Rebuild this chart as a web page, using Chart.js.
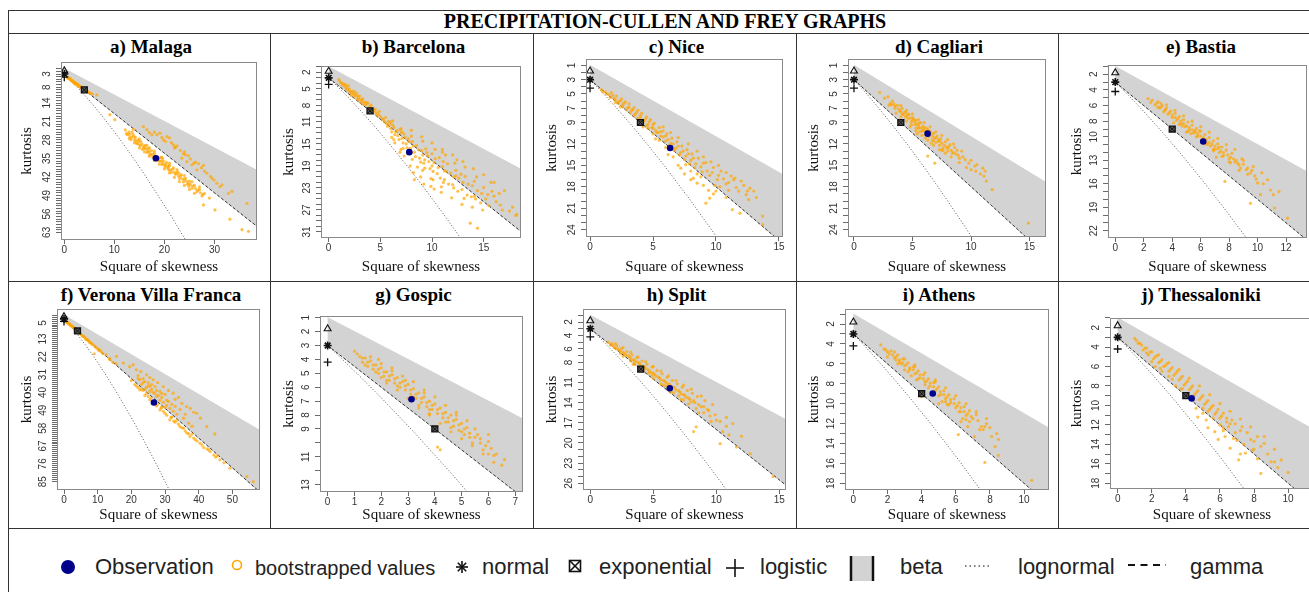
<!DOCTYPE html>
<html><head><meta charset="utf-8">
<script src="https://cdn.jsdelivr.net/npm/chart.js@4.4.1/dist/chart.umd.min.js"></script>
<style>
html,body{margin:0;padding:0;background:#fff;}
#page{position:relative;width:1309px;height:592px;overflow:hidden;background:#fff;}
.ln{position:absolute;background:#333;}
.ptitle{position:absolute;font-family:'Liberation Serif','Times New Roman',serif;font-weight:bold;font-size:19px;line-height:1;white-space:nowrap;transform:translateX(-50%);color:#000;}
.mtitle{position:absolute;font-family:'Liberation Serif','Times New Roman',serif;font-weight:bold;font-size:20px;line-height:1;white-space:nowrap;transform:translateX(-50%);color:#000;}
.lg{position:absolute;font-family:'Liberation Sans',Arial,sans-serif;font-size:22px;line-height:1;white-space:nowrap;color:#222;}
canvas{position:absolute;}
</style></head>
<body>
<div id="page">
  <div class="ln" style="left:8px;top:10px;width:1301px;height:1px"></div>
  <div class="ln" style="left:8px;top:33px;width:1301px;height:1px"></div>
  <div class="ln" style="left:8px;top:281px;width:1301px;height:1px"></div>
  <div class="ln" style="left:8px;top:528px;width:1301px;height:1px"></div>
  <div class="ln" style="left:8px;top:10px;width:1px;height:582px"></div>
  <div class="ln" style="left:270px;top:33px;width:1px;height:495px"></div>
  <div class="ln" style="left:533px;top:33px;width:1px;height:495px"></div>
  <div class="ln" style="left:796px;top:33px;width:1px;height:495px"></div>
  <div class="ln" style="left:1058px;top:33px;width:1px;height:495px"></div>
  <div class="mtitle" style="left:665px;top:11px">PRECIPITATION-CULLEN AND FREY GRAPHS</div>

  <svg style="position:absolute;left:0;top:528px" width="1309" height="64">
    <circle cx="68" cy="39" r="7" fill="#00008b"/>
    <circle cx="237" cy="37" r="4.5" fill="none" stroke="#ffa500" stroke-width="1.6"/>
    <g stroke="#111" stroke-width="1.6">
      <line x1="456" y1="39" x2="468" y2="39"/><line x1="462" y1="33" x2="462" y2="45"/>
      <line x1="457.8" y1="34.8" x2="466.2" y2="43.2"/><line x1="457.8" y1="43.2" x2="466.2" y2="34.8"/>
    </g>
    <g stroke="#111" stroke-width="1.6" fill="none">
      <rect x="569.5" y="32.5" width="11" height="11"/>
      <line x1="570" y1="33" x2="580" y2="43"/><line x1="570" y1="43" x2="580" y2="33"/>
    </g>
    <g stroke="#111" stroke-width="1.6">
      <line x1="726" y1="40" x2="744" y2="40"/><line x1="735" y1="31" x2="735" y2="49"/>
    </g>
    <rect x="850" y="28" width="24" height="25" fill="#d3d3d3"/>
    <line x1="851" y1="28" x2="851" y2="53" stroke="#111" stroke-width="2.5"/>
    <line x1="873" y1="28" x2="873" y2="53" stroke="#111" stroke-width="2.5"/>
    <line x1="965" y1="38" x2="992" y2="38" stroke="#555" stroke-width="1.3" stroke-dasharray="1.5 3"/>
    <line x1="1128" y1="37" x2="1166" y2="37" stroke="#111" stroke-width="1.8" stroke-dasharray="7 5.5"/>
  </svg>
  <div class="lg" style="left:95px;top:556px">Observation</div>
  <div class="lg" style="left:255px;top:558px;font-size:20px">bootstrapped values</div>
  <div class="lg" style="left:482px;top:556px">normal</div>
  <div class="lg" style="left:599px;top:556px">exponential</div>
  <div class="lg" style="left:760px;top:556px">logistic</div>
  <div class="lg" style="left:900px;top:556px">beta</div>
  <div class="lg" style="left:1018px;top:556px">lognormal</div>
  <div class="lg" style="left:1190px;top:556px">gamma</div>
</div>
<script>
// ---------------- DATA ----------------
const stationNames = ['a) Malaga','b) Barcelona','c) Nice','d) Cagliari','e) Bastia',
  'f) Verona Villa Franca','g) Gospic','h) Split','i) Athens','j) Thessaloniki'];

// observed (square of skewness, kurtosis)
const observedSkew2 = [18.3, 7.8, 6.36, 6.29, 6.18, 26.7, 3.13, 6.31, 4.65, 4.34];
const observedKurt  = [34.9, 16.5, 12.57, 10.56, 10.6, 45.1, 6.86, 11.85, 8.98, 9.28];

// x tick labels (square of skewness)
const xTicks = [[0,10,20,30],[0,5,10,15],[0,5,10,15],[0,5,10,15],[0,2,4,6,8,10,12],
  [0,10,20,30,40,50],[0,1,2,3,4,5,6,7],[0,5,10,15],[0,2,4,6,8,10],[0,2,4,6,8,10]];
// kurtosis axis: largest tick and labelled ticks
const kurtMax = [63,31,24,24,22,85,13,26,18,18];
const kurtLabels = [
  [3,8,14,21,28,35,42,49,56,63],
  [2,5,8,11,15,19,23,27,31],
  [1,3,5,7,9,12,15,18,21,24],
  [1,3,5,7,9,12,15,18,21,24],
  [2,4,6,8,10,13,16,19,22],
  [5,13,22,31,40,49,58,67,76,85],
  [1,2,3,4,5,6,7,8,9,11,13],
  [2,4,6,8,11,14,17,20,23,26],
  [2,4,6,8,10,12,14,16,18],
  [2,4,6,8,10,12,14,16,18]];

// theoretical references
const betaRegion = [[0,1],[200,201],[200,303],[0,3]];
const gammaLine = [[0,3],[200,303]];
const lognormalCurve = [[0,3],[0.182,3.326],[0.465,3.838],[0.961,4.756],[1.488,5.758],[2.048,6.85],
  [3.267,9.32],[4.624,12.21],[6.125,15.56],[7.776,19.43],[9.583,23.85],[11.552,28.88],
  [13.689,34.58],[16,41],[21.168,56.24],[27.104,75.11],[33.856,98.13],[41.47,125.89]];
const normalPoint = [0,3];
const uniformPoint = [0,1.8];
const logisticPoint = [0,4.2];
const exponentialPoint = [4,9];

// bootstrapped values [square of skewness, kurtosis]
const bootMalaga = [[0.6,4.2],[0.9,4.6],[1.1,5.0],[1.3,5.2],[1.5,5.6],[1.7,5.9],[1.9,6.1],[2.1,6.4],[2.3,6.8],[2.5,7.0],[2.7,7.3],[2.9,7.5],[3.2,8.0],[3.5,8.3],[3.8,8.8],[4.2,9.1],[4.6,9.6],[5.0,10.0],[5.6,10.6],[6.5,10.9],[1.2,4.8],[2.0,6.6],[2.8,7.0],[3.4,7.8],
 [0.7,4.6],[1.0,4.6],[1.4,5.4],[1.6,5.4],[1.8,6.0],[2.2,6.2],[2.4,6.6],[2.6,6.9],[3.0,7.7],[3.3,7.9],[3.6,8.4],[4.0,8.7],[4.4,9.4],[4.8,9.8],[5.3,10.3],
 [9.1,18.4],[10.1,20.3],[13.8,24.0],
 [16.5,24.1],[18.5,26.0],[20.5,26.7],[19.8,27.9],[21.8,29.8],[23.5,34.9],[24.5,36.2],[25.5,37.4],[26.5,39.3],[28.5,40.6],[29.5,42.5],[30.5,44.4],[31.1,45.7],[32.8,48.2],[15.8,22.9],[17.0,25.2],[19.1,25.4],[21.0,27.2],[22.5,30.2],[24.0,32.5],[24.8,34.0],[26.2,36.4],[27.8,37.6],[29.2,41.8],[31.5,45.0],[22.0,31.0],[26.8,37.0],[23.8,33.2],
 [17.5,26.0],[18.0,25.0],[19.5,27.0],[20.2,28.5],[21.4,29.0],[22.2,30.8],[23.2,32.0],[24.2,33.6],[25.2,35.2],[25.9,36.8],[27.4,38.5],[28.0,39.8],[29.9,43.2],[33.5,47.5],
 [12.2,24.2],[12.6,26.0],[13.0,25.8],[13.3,27.9],[13.7,25.9],[14.0,27.9],[14.4,29.2],[14.7,28.0],[15.0,29.7],[15.3,28.6],[15.6,31.6],[15.9,30.4],[16.2,30.0],[16.5,32.7],[16.8,31.2],[17.1,33.4],[17.4,32.0],[17.7,34.6],[18.0,33.0],[18.9,36.0],[19.2,34.6],[19.5,37.3],[19.8,35.9],[20.1,38.2],[20.4,36.5],[20.7,38.8],[21.0,37.6],[21.4,40.3],[21.8,38.6],[22.2,41.0],[22.6,40.0],[23.0,42.6],[23.4,41.2],[23.8,43.9],[24.2,42.5],[24.6,44.8],[25.0,43.6],[25.5,46.3],[26.0,45.2],[26.5,47.6],[27.0,46.8],[27.5,49.2],[28.0,48.3],[14.2,27.0],[18.4,35.5],[20.9,39.4],[22.9,40.6],[24.9,45.6],[19.6,35.0],[17.0,31.0],
 [12.4,25.6],[12.9,25.0],[13.1,26.8],[13.5,27.0],[13.9,26.6],[14.3,28.3],[14.6,29.4],[14.9,28.5],[15.2,30.2],[15.5,29.6],[15.8,31.0],[16.1,31.2],[16.4,31.4],[16.7,32.3],[17.0,32.5],[17.3,33.6],[17.6,33.3],[17.9,34.0],[18.2,34.0],[18.6,34.8],[18.8,35.1],[19.1,35.9],[19.4,36.1],[19.7,36.8],[20.0,37.5],[20.3,37.3],[20.6,38.2],[20.9,38.0],[21.2,39.4],[21.6,39.1],[22.0,40.2],[22.4,40.7],[22.8,41.6],[23.2,41.8],[23.6,42.7],[24.0,43.0],[24.4,43.6],[24.8,44.4],[25.2,44.9],[25.7,45.5],[26.2,46.4],[26.7,47.0],[27.2,48.0],[27.7,48.6],
 [36.5,52.0],[33.1,58.0],[35.5,62.0],[36.8,62.6],[30.1,54.5],[27.8,52.6],[29.0,50.0]];
const spreadMalaga = [[13.0,27.5],[14.0,29.0],[15.0,31.0],[16.0,32.5],[17.0,34.2],[18.0,35.8],[19.0,37.2],[20.0,39.0],[21.0,40.5],[22.0,42.2],[23.0,43.8],[24.0,45.2],[25.0,46.8],[26.0,48.2],[13.5,25.0],[15.0,27.6],[16.5,30.0],[18.0,32.2],[19.5,34.6],[21.0,36.8],[22.5,39.2],[24.0,41.5],[25.5,43.8],[27.0,45.8]];

const bootBarcelona = [[1.0,3.3],[1.2,3.9],[1.4,4.0],[1.5,4.5],[1.7,4.6],[1.8,5.1],[2.0,5.0],[2.1,5.5],[2.3,5.4],[2.4,5.9],[2.6,6.1],[2.7,5.8],[2.9,6.6],[3.0,6.3],[3.2,7.0],[3.3,6.8],[3.5,7.4],[3.6,7.9],[3.8,7.6],[4.0,8.2],[4.2,8.6],[4.4,8.9],[4.6,9.3],[4.8,9.6],[5.0,10.0],[2.2,6.2],[3.1,7.5],[1.9,4.4],[2.8,6.9],
 [5.3,10.6],[5.6,11.3],[5.8,10.9],[6.0,12.2],[6.2,11.6],[6.5,12.8],[6.7,13.5],[6.9,12.4],[7.1,14.0],[7.3,13.2],[7.5,15.0],[7.7,14.1],[7.9,15.8],[8.1,14.6],[8.3,16.5],[8.5,15.3],[8.8,17.6],[9.0,16.2],[9.2,18.5],[9.4,15.9],[9.6,17.2],[9.8,19.5],[10.0,16.8],[10.2,18.4],[10.5,20.4],[10.7,17.5],[11.0,19.1],[11.2,21.5],[11.5,18.6],[11.8,20.3],[12.0,22.4],[12.3,19.8],[12.6,21.2],[12.9,23.3],[13.2,20.9],[13.5,22.3],[13.8,24.6],[14.1,21.8],[14.4,23.5],[14.7,25.7],[15.0,22.9],[15.4,24.2],[15.8,23.6],[16.2,25.5],[16.6,26.1],[17.5,27.2],[8.6,19.2],[9.9,21.3],[10.9,22.8],[7.0,16.0],[13.7,29.4],[14.4,30.3],[12.4,17.9],[11.0,16.5],[6.3,14.2],
 [1.1,3.7],[1.3,4.3],[1.6,4.2],[1.7,4.9],[2.0,5.4],[2.2,5.7],[2.5,5.5],[2.5,6.4],[2.8,6.3],[3.0,7.0],[3.3,7.3],[3.4,7.8],[3.7,7.5],[3.9,8.5],[4.1,8.0],[4.3,9.2],[4.5,8.7],[4.7,9.8],[4.9,9.1],[5.2,10.4],[5.4,11.0],[5.5,10.2],[5.7,11.8],[5.9,11.4],[6.1,12.8],[6.3,12.0],[6.4,13.3],[6.6,12.6],[6.8,14.2],[7.0,13.0],[7.2,14.8],[7.4,13.8],[7.6,15.7],[7.8,14.6],[8.0,16.6],[8.2,15.4],[8.4,17.3],[8.7,16.1],[8.9,18.3],[9.1,17.0],[9.3,19.4],[9.5,16.6],[9.7,18.2],[10.1,20.0],[10.3,17.7],[10.6,19.3],[10.8,21.2],[11.1,18.2],[11.4,20.0],[11.6,22.3],[12.1,21.0],[12.5,23.6],[12.8,20.5],[13.0,22.0],[13.4,24.3],[13.9,22.6],[14.2,25.0],[14.8,24.0],[15.5,26.2],[16.0,24.5],[16.8,27.0],[18.1,28.0]];
const spreadBarcelona = [[6.0,11.0],[6.1,13.8],[6.4,14.8],[6.2,10.8],[7.0,12.2],[7.2,15.8],[6.9,16.5],[7.3,17.2],[7.1,12.8],[8.0,12.5],[8.1,17.8],[7.9,19.0],[8.2,20.2],[8.0,13.6],[8.3,21.5],[9.0,13.7],[9.1,19.8],[8.9,21.0],[9.2,22.3],[9.1,14.5],[9.3,17.9],[10.0,14.8],[10.1,21.5],[9.9,22.7],[10.2,23.2],[10.3,16.0],[10.0,19.0],[11.0,16.0],[11.1,22.0],[10.9,23.8],[11.3,17.0],[11.2,19.9],[12.0,17.0],[12.1,23.0],[11.9,24.8],[12.2,18.5],[12.3,20.8],[13.0,18.2],[13.1,24.9],[12.9,26.0],[13.2,19.2],[14.0,19.5],[14.1,24.5],[13.9,26.5],[14.3,21.0],[15.0,20.6],[15.2,25.0],[14.9,27.0],[16.0,22.0],[16.5,24.0],[17.0,23.5],[17.8,26.5],[18.2,27.8],[15.7,22.0]];

const bootNice = [[0.9,4.4],[1.2,4.7],[1.5,5.1],[1.7,4.8],[1.9,5.6],[2.1,5.3],[2.3,6.0],[2.5,5.7],[2.6,6.5],[2.8,6.1],[3.0,6.9],[3.1,6.4],[3.3,7.3],[3.5,6.9],[3.6,7.8],[3.8,7.3],[4.0,8.3],[4.1,7.7],[4.3,8.8],[4.5,8.2],[4.6,9.3],[4.8,8.6],[5.0,9.8],[5.1,9.1],[5.3,10.4],[5.5,9.7],[5.6,10.9],[5.8,10.2],[6.0,11.6],[6.1,10.6],[6.3,12.2],[6.5,11.2],[6.7,12.9],[6.9,11.7],[7.1,13.5],[7.3,12.3],[7.5,14.2],[7.7,12.8],[7.9,14.8],[8.1,13.4],[8.3,15.3],[8.6,14.0],[8.9,15.9],[9.2,14.6],[9.5,16.4],[9.8,15.3],[10.1,17.0],[10.4,15.8],[10.8,17.6],[11.2,16.5],[11.6,18.1],[12.0,17.2],[12.4,19.1],[12.7,18.2],[9.2,20.3],[9.5,19.6],[11.3,21.2],[11.9,21.7],[13.7,22.1],[13.7,23.3],[8.0,17.0],[7.2,15.4],[6.2,13.5],[10.0,18.6],[2.4,6.8],[3.9,8.9],[5.2,11.3],[2.0,6.2],[4.2,9.6],[12.6,19.8],[13.0,18.6],
 [1.0,4.7],[1.3,5.0],[1.6,5.5],[1.8,5.2],[2.0,5.8],[2.2,6.3],[2.4,6.0],[2.6,6.8],[2.7,6.3],[2.9,7.2],[3.1,6.9],[3.2,7.6],[3.4,7.2],[3.5,8.0],[3.7,7.6],[3.8,8.4],[4.0,8.0],[4.2,8.9],[4.4,8.5],[4.5,9.4],[4.7,8.9],[4.9,9.7],[5.0,9.3],[5.2,10.1],[5.4,10.4],[5.6,10.3],[5.8,11.0],[6.0,10.9],[6.2,11.4],[6.4,11.9],[6.6,12.0],[6.8,12.6],[7.0,12.3],[7.2,13.2],[7.4,13.0],[7.6,13.7],[7.8,13.4],[8.0,14.3],[8.2,14.0],[8.4,14.8],[8.8,15.2],[9.0,14.7],[9.3,15.8],[9.7,16.0],[10.2,16.4],[10.6,16.9],[11.0,17.4],[11.4,17.0],[11.8,18.6],[8.5,16.2],[9.9,17.8],[7.6,14.9]];
const spreadNice = [[7.0,15.0],[7.5,16.2],[8.0,15.8],[8.2,16.8],[8.5,17.5],[8.8,16.6],[9.0,17.8],[9.4,18.5],[9.8,19.0],[10.3,18.0],[10.8,19.5],[11.0,18.5],[7.8,12.0],[8.5,13.0],[9.0,13.8],[9.6,14.5],[10.2,15.0],[10.8,16.0],[11.5,16.8],[12.2,17.8],[6.6,13.8],[6.0,12.5],[5.5,11.5],[5.0,10.6],[4.6,9.8],[5.8,9.6],[6.4,10.4],[7.0,11.1],[12.5,18.6],[13.2,19.5]];

const bootCagliari = [[2.2,4.8],[2.6,5.6],[2.9,5.4],[3.1,6.3],[3.3,6.0],[3.5,7.0],[3.7,6.6],[3.9,7.4],[4.1,7.0],[4.2,7.9],[4.4,7.5],[4.6,8.4],[4.7,7.9],[4.9,8.9],[5.0,8.3],[5.2,9.3],[5.3,8.7],[5.5,9.8],[5.6,9.1],[5.8,10.2],[5.9,9.5],[6.1,10.6],[6.2,9.8],[6.4,11.0],[6.5,10.2],[6.7,11.4],[6.8,10.5],[7.0,11.8],[7.1,10.9],[7.3,12.2],[7.4,11.3],[7.6,12.6],[7.8,11.7],[8.0,13.0],[8.2,12.1],[8.4,13.3],[8.6,12.5],[8.9,13.6],[9.2,13.0],[9.5,14.2],[9.8,14.7],[10.3,15.1],[11.2,15.8],[11.3,17.2],[11.1,16.5],[11.8,18.4],[14.9,23.1],[6.3,13.7],[6.9,14.7],[5.4,10.6],[6.6,11.9],[7.5,12.9],[4.5,8.8],[3.6,7.7],[5.7,9.0],[6.0,10.1],[7.2,11.6],[8.1,12.4],[9.0,14.0],[10.0,15.6],[10.8,16.2],[4.0,6.6],[3.0,6.6],
 [3.2,6.5],[3.4,6.4],[3.5,6.7],[3.8,7.1],[4.0,7.4],[4.1,7.8],[4.3,7.6],[4.5,8.0],[4.6,7.8],[4.8,8.4],[5.0,8.7],[5.1,8.5],[5.2,8.9],[5.4,9.2],[5.5,9.4],[5.6,9.7],[5.8,9.8],[5.9,10.1],[6.0,9.7],[6.2,10.3],[6.3,10.0],[6.4,10.5],[6.6,10.6],[6.7,10.9],[6.9,11.2],[7.0,11.1],[7.2,11.4],[7.3,11.6],[7.5,11.9],[7.7,12.2],[7.9,12.4],[8.0,12.6],[8.3,12.9],[8.5,13.2],[8.7,13.4],[6.1,11.2],[6.8,11.6],[5.3,9.8],[4.9,9.3],[7.6,12.9],[4.4,8.2],[5.6,10.3],[8.8,12.9],[9.3,13.8]];
const spreadCagliari = [[4.0,8.2],[4.5,7.3],[5.0,7.8],[5.5,8.6],[6.0,9.0],[6.5,9.6],[7.0,10.3],[7.5,10.8],[8.0,11.4],[8.5,12.0],[4.8,9.6],[5.3,10.2],[5.8,10.8],[6.3,11.5],[6.8,12.2],[7.3,12.8],[7.8,13.3],[8.3,13.8],[9.0,14.6],[9.6,15.3],[10.4,15.8],[10.0,14.3],[10.5,14.9],[11.0,15.4]];

const bootBastia = [[2.3,5.1],[2.6,5.3],[2.8,5.9],[3.0,5.5],[3.1,6.3],[3.3,6.0],[3.4,6.8],[3.6,6.3],[3.7,7.1],[3.9,6.7],[4.0,7.5],[4.2,7.0],[4.3,7.9],[4.5,7.4],[4.6,8.3],[4.8,7.8],[4.9,8.7],[5.1,8.1],[5.2,9.1],[5.4,8.5],[5.5,9.5],[5.7,8.9],[5.8,9.9],[6.0,9.3],[6.1,10.3],[6.3,9.7],[6.4,10.8],[6.6,10.1],[6.7,11.2],[6.9,10.5],[7.0,11.6],[7.2,10.9],[7.3,12.0],[7.5,11.3],[7.6,12.4],[7.8,11.7],[8.0,12.8],[8.2,12.1],[8.4,13.2],[8.6,13.4],[8.9,12.8],[9.2,14.2],[9.5,14.6],[10.0,15.9],[10.7,15.5],[7.7,15.7],[9.5,18.5],[12.1,20.4],[10.2,17.4],[11.2,19.1],[11.1,17.4],[6.5,11.0],[5.0,9.4],[4.1,8.2],[7.1,12.6],[8.8,14.0],[3.5,6.6],[5.6,9.2],[9.8,15.0],[3.2,5.7],
 [2.5,5.6],[2.9,5.7],[3.2,6.2],[3.5,6.5],[3.8,6.9],[4.0,7.2],[4.2,7.5],[4.4,7.7],[4.6,8.0],[4.8,8.3],[5.0,8.6],[5.2,8.8],[5.4,9.1],[5.6,9.4],[5.8,9.6],[6.0,9.9],[6.2,10.1],[6.4,10.4],[6.6,10.7],[6.8,10.9],[7.0,11.2],[7.2,11.5],[7.4,11.8],[7.6,12.0],[7.9,12.3],[8.1,12.6],[8.3,12.8],[8.5,13.0],[8.7,13.6],[9.0,13.5],[9.3,14.0],[9.6,14.3],[5.3,9.6],[6.2,10.7],[7.3,11.3],[4.7,8.6],[5.9,9.2],[6.9,11.8],[8.0,13.2]];
const spreadBastia = [[3.0,6.2],[3.6,5.9],[4.2,6.6],[4.8,7.3],[5.4,8.0],[6.0,8.7],[6.6,9.4],[7.2,10.2],[7.8,11.0],[8.4,11.6],[4.5,8.4],[5.1,9.3],[5.7,10.0],[6.3,10.9],[6.9,11.6],[7.5,12.5],[8.1,13.3],[8.7,14.3],[9.3,14.8],[9.9,15.4],[10.4,16.0],[9.0,13.0],[9.7,13.8],[10.3,14.6],[10.9,16.8],[11.5,17.0]];

const bootVerona = [[0.5,4.0],[0.8,4.5],[1.0,4.8],[1.3,5.2],[1.6,5.7],[1.9,6.0],[2.2,6.5],[2.5,6.9],[2.8,7.5],[3.1,7.8],[3.5,8.4],[4.0,9.2],[4.5,10.0],[5.0,10.4],[5.5,11.6],[6.0,12.0],[6.5,13.2],[7.0,13.5],[7.5,14.6],[8.0,15.2],[8.6,16.0],[9.2,16.8],[10.0,18.0],[10.6,18.5],[11.5,20.4],[12.5,21.0],[9.0,20.5],[13.5,22.8],[14.5,24.8],[15.5,25.5],[13.6,23.5],[15.6,21.8],[17.6,25.2],
 [0.6,4.4],[1.1,5.1],[1.5,5.3],[2.0,6.3],[2.4,6.6],[2.9,7.2],[3.3,8.0],[3.8,8.8],[4.2,9.6],[4.8,10.3],[5.3,11.2],[5.8,11.8],[6.3,12.6],[6.8,13.4],[7.3,14.0],[7.8,14.8],[8.3,15.6],[9.5,17.4],[10.3,18.8],[11.0,19.4],
 [19.5,27.0],[20.5,26.0],[21.5,28.6],[22.0,31.5],[22.8,29.5],[23.5,33.0],[24.5,31.1],[25.0,35.0],[25.5,32.5],[26.5,33.6],[27.0,37.0],[27.8,35.0],[28.5,39.5],[29.5,37.0],[30.0,41.0],[31.0,39.0],[32.4,40.4],[33.0,43.5],[34.0,42.5],[35.0,45.5],[36.4,47.1],[37.5,48.0],[38.5,50.0],[39.4,50.5],[40.5,53.0],[42.4,57.2],[44.8,60.9],[23.0,36.0],[26.0,38.5],[29.0,42.5],
 [24.0,34.5],[25.5,37.0],[27.5,39.0],[30.5,44.0],[32.0,46.0],[34.5,48.5],[28.0,41.5],[26.0,36.0],[22.5,33.5],
 [20.0,34.0],[21.0,36.0],[22.5,38.7],[23.5,39.0],[24.0,41.5],[25.0,42.0],[25.5,43.7],[26.5,44.5],[27.5,46.8],[28.5,48.8],[29.0,47.5],[30.0,50.5],[31.4,53.8],[32.0,52.5],[33.0,55.0],[34.4,57.2],[35.5,58.0],[36.5,60.5],[37.4,62.2],[38.5,63.0],[39.5,64.5],[40.4,65.6],[41.5,67.8],[42.5,68.5],[43.4,69.8],[44.5,71.5],[45.5,72.0],[46.3,74.0],[47.5,75.5],[49.3,78.2],[54.3,82.4],[56.2,85.0],[38.0,61.0],[33.5,54.0],
 [21.5,36.8],[22.0,37.5],[23.0,38.5],[24.5,40.5],[25.8,42.8],[26.8,44.8],[27.8,46.0],[28.8,47.8],[29.5,49.5],[30.5,51.5],[31.8,52.6],[32.6,54.5],[34.0,56.0],[35.0,57.8],[36.0,59.5],[37.0,60.8],[39.0,63.8],[41.0,66.5],[43.0,69.0],[45.0,72.6]];
const spreadVerona = [[22.0,33.0],[23.5,35.0],[24.5,37.5],[25.0,36.5],[26.5,40.0],[27.5,42.0],[28.5,44.0],[29.5,45.0],[30.5,46.5],[31.5,48.0],[32.5,49.5],[33.5,51.0],[35.5,53.0],[37.0,55.5],[38.0,57.0],[36.0,51.0],[27.0,40.5],[25.5,39.5],[30.0,47.5],[31.0,44.5],[24.0,38.5],[29.0,40.5],[33.0,47.0]];

const bootGospic = [[1.0,3.4],[1.2,3.8],[1.3,4.2],[1.4,3.9],[1.5,4.5],[1.6,4.1],[1.7,4.7],[1.8,4.4],[1.9,5.0],[2.0,4.6],[2.1,5.2],[2.2,4.9],[2.3,5.5],[2.4,5.1],[2.5,5.7],[2.6,5.3],[2.7,6.0],[2.8,5.6],[2.9,6.2],[3.0,5.8],[3.1,6.5],[3.2,6.1],[3.3,6.8],[3.4,6.4],[3.5,7.1],[3.6,6.7],[3.7,7.4],[3.8,7.0],[3.9,7.6],[4.0,7.2],[4.1,7.9],[4.2,7.5],[4.3,8.2],[4.4,7.8],[4.5,8.5],[4.6,8.0],[4.7,8.8],[4.8,8.3],[4.9,9.1],[5.0,8.6],[5.1,9.4],[5.2,8.9],[5.3,9.6],[5.4,10.0],[5.6,9.4],[5.8,10.5],[6.0,9.9],[6.2,10.9],[6.2,11.4],[6.0,10.8],[4.1,10.3],[4.2,10.5],[2.2,5.5],[3.4,7.3],[4.6,8.9],[1.9,4.0],[2.9,5.5],[3.8,7.9],[6.5,11.6],
 [1.1,3.6],[1.3,3.9],[1.5,4.2],[1.7,4.4],[1.9,4.7],[2.1,4.9],[2.3,5.2],[2.5,5.4],[2.7,5.7],[2.9,5.9],[3.1,6.2],[3.3,6.5],[3.5,6.8],[3.7,7.1],[3.9,7.3],[4.1,7.6],[4.3,7.9],[4.5,8.2],[4.7,8.4],[4.9,8.7],[5.1,9.0],[5.3,9.3],[5.5,9.6],[5.7,10.0],[5.9,10.2],[6.1,10.4],[2.0,5.3],[2.6,5.9],[3.2,6.7],[3.8,7.6],[4.4,8.5],[5.0,9.2],[5.7,9.7],[1.4,4.4],[2.4,4.8],[3.6,6.4],[4.8,8.0]];
const spreadGospic = [[1.6,3.8],[2.0,4.3],[2.4,4.6],[2.8,5.2],[3.2,5.6],[3.6,6.2],[4.0,6.7],[4.4,7.3],[4.8,7.8],[5.2,8.4],[1.8,4.9],[2.2,5.7],[2.6,6.2],[3.0,6.8],[3.4,7.5],[3.8,8.0],[4.2,8.6],[4.6,9.2],[5.0,9.7],[5.4,10.2],[5.8,10.8],[6.3,10.8],[6.6,11.2],[5.5,9.0],[6.0,9.4]];

const bootSplit = [[1.4,5.0],[1.7,5.2],[1.9,5.8],[2.1,5.5],[2.3,6.2],[2.5,5.9],[2.7,6.7],[2.9,6.4],[3.1,7.2],[3.3,6.9],[3.5,7.7],[3.7,7.3],[3.9,8.2],[4.1,7.8],[4.3,8.7],[4.5,8.3],[4.7,9.3],[4.9,8.7],[5.1,9.8],[5.3,9.2],[5.5,10.3],[5.7,9.7],[5.9,10.8],[6.1,10.2],[6.3,11.3],[6.5,10.7],[6.7,11.8],[6.9,11.2],[7.1,12.4],[7.3,11.7],[7.5,12.9],[7.7,12.2],[7.9,13.5],[8.1,12.6],[8.3,14.0],[8.5,13.1],[8.8,14.6],[9.1,13.7],[9.4,15.2],[9.7,14.3],[10.0,16.6],[11.3,17.1],[10.5,18.3],[10.3,20.1],[11.6,20.6],[12.7,21.6],[14.5,25.0],[8.2,18.3],[8.4,17.6],[6.0,11.5],[4.6,9.6],[3.2,7.8],[7.0,13.0],[9.0,15.5],[10.8,16.2],[5.6,11.2],[2.4,6.7],[6.4,12.4],[12.0,19.0],[9.6,16.8],
 [1.6,5.4],[1.8,5.5],[2.0,5.9],[2.2,6.0],[2.4,6.3],[2.6,6.5],[2.8,6.9],[3.0,7.0],[3.2,7.4],[3.4,7.6],[3.6,7.9],[3.8,8.0],[4.0,8.4],[4.2,8.6],[4.4,8.9],[4.6,9.1],[4.8,9.5],[5.0,9.6],[5.2,10.0],[5.4,10.2],[5.6,10.6],[5.8,10.7],[6.0,11.0],[6.2,11.2],[6.4,11.6],[6.6,11.7],[6.8,12.1],[7.0,12.2],[7.2,12.7],[7.4,12.8],[7.6,13.2],[7.8,13.3],[8.0,13.9],[8.2,13.7],[8.6,14.3],[9.0,14.6],[9.3,15.0],[3.5,8.3],[4.9,9.9],[6.2,11.9],[7.4,13.6],[8.4,14.9]];
const spreadSplit = [[2.0,5.2],[2.6,5.8],[3.2,6.5],[3.8,7.2],[4.4,7.9],[5.0,8.6],[5.6,9.3],[6.2,10.0],[6.8,10.7],[7.4,11.4],[8.0,12.0],[8.8,13.0],[2.6,7.1],[3.4,8.3],[4.2,9.3],[5.0,10.4],[5.8,11.4],[6.6,12.5],[7.2,13.5],[7.8,14.2],[8.6,15.5],[9.5,16.0],[10.3,16.8],[10.8,17.5],[9.9,15.8],[11.0,18.8]];

const bootAthens = [[1.6,4.1],[1.9,4.6],[2.1,5.0],[2.2,4.7],[2.4,5.4],[2.6,5.1],[2.7,5.8],[2.9,5.5],[3.0,6.2],[3.2,5.9],[3.3,6.6],[3.5,6.3],[3.6,7.0],[3.8,6.7],[3.9,7.4],[4.1,7.1],[4.2,7.8],[4.4,7.5],[4.5,8.2],[4.7,7.9],[4.8,8.7],[5.0,8.3],[5.1,9.1],[5.3,8.7],[5.4,9.5],[5.6,9.1],[5.7,9.9],[5.9,9.5],[6.0,10.4],[6.2,9.9],[6.3,10.8],[6.5,10.3],[6.6,11.2],[6.8,10.7],[7.0,11.5],[7.2,11.1],[7.5,12.3],[8.1,13.3],[8.5,13.6],[8.3,14.3],[8.5,15.2],[7.6,12.6],[7.1,13.3],[6.15,13.1],[7.7,15.9],[10.45,17.7],[6.7,12.3],[4.0,9.3],[3.4,7.2],[4.6,8.9],[5.5,10.1],[2.8,6.0],[6.4,11.5],[7.8,12.0],[5.2,9.8],[3.7,7.6],[2.5,5.6],
 [1.8,4.5],[2.0,4.8],[2.3,5.1],[2.5,5.3],[2.7,5.6],[2.9,5.9],[3.1,6.1],[3.3,6.4],[3.5,6.6],[3.7,6.9],[3.9,7.1],[4.1,7.5],[4.3,7.7],[4.5,7.9],[4.7,8.3],[4.9,8.5],[5.1,8.8],[5.3,9.1],[5.5,9.3],[5.7,9.6],[5.9,10.0],[6.1,10.2],[6.3,10.4],[6.5,10.8],[6.7,11.0],[6.9,11.3],[7.3,11.7],[7.7,12.3],[3.0,6.6],[4.2,8.1],[5.4,9.8],[6.6,11.6],[3.6,6.3],[4.8,7.8]];
const spreadAthens = [[2.0,5.3],[2.6,6.0],[3.2,6.8],[3.8,7.5],[4.4,8.4],[5.0,9.2],[5.6,10.1],[6.2,10.8],[6.8,11.8],[7.4,12.6],[2.4,4.8],[3.0,5.5],[3.6,6.1],[4.2,6.9],[4.8,7.6],[5.4,8.4],[6.0,9.2],[6.6,10.0],[7.2,10.8],[7.8,11.5],[8.0,12.4],[8.4,13.0],[6.3,11.8],[5.0,10.0]];

const bootThessaloniki = [[1.0,3.1],[1.2,3.6],[1.4,3.8],[1.5,4.3],[1.7,4.1],[1.8,4.8],[2.0,4.5],[2.1,5.2],[2.3,4.9],[2.4,5.6],[2.6,5.3],[2.7,6.0],[2.9,5.7],[3.0,6.5],[3.2,6.1],[3.3,6.9],[3.5,6.5],[3.6,7.4],[3.8,7.0],[3.9,7.9],[4.1,7.5],[4.2,8.4],[4.4,8.0],[4.5,8.9],[4.7,8.5],[4.8,9.4],[5.0,9.0],[5.1,9.9],[5.3,9.5],[5.4,10.4],[5.6,10.0],[5.7,10.9],[5.9,10.4],[6.0,11.3],[6.2,10.8],[6.4,11.7],[6.7,11.5],[7.3,12.2],[8.2,13.2],[9.0,15.8],[9.2,15.8],[10.0,16.9],[6.3,13.2],[7.1,15.6],[7.5,14.9],[8.6,13.9],[6.5,12.2],[5.7,12.7],[5.2,11.5],[8.4,17.0],[4.6,10.3],[3.4,8.0],[2.2,6.0],[6.9,12.8],[7.8,13.5],[4.0,9.1],[5.0,10.8],[3.7,8.3],
 [1.1,3.3],[1.3,3.6],[1.6,4.1],[1.9,4.5],[2.2,5.0],[2.5,5.5],[2.8,5.9],[3.1,6.3],[3.4,6.7],[3.7,7.2],[4.0,7.7],[4.3,8.2],[4.6,8.7],[4.9,9.2],[5.2,9.7],[5.5,10.2],[5.8,10.7],[6.1,11.1],[6.4,11.3],[6.6,11.9],[6.9,11.9],[7.2,12.6],[7.6,12.8],[8.0,13.7],[8.4,14.2],[3.0,7.0],[4.1,8.8],[5.3,10.6],[6.2,12.3],[7.0,13.6],[2.5,6.2],[1.7,4.6],[6.0,12.0],[7.9,14.6],[8.8,15.0]];
const spreadThessaloniki = [[2.0,5.5],[2.6,6.5],[3.2,7.3],[3.8,8.3],[4.4,9.4],[5.0,10.3],[5.6,11.3],[6.2,12.6],[6.8,13.4],[7.4,14.0],[8.0,14.5],[5.9,13.5],[6.6,14.4],[7.2,15.0],[8.2,15.5],[9.6,15.6],[9.4,16.4],[2.4,4.8],[3.0,5.6],[3.6,6.3],[4.2,7.2],[4.8,8.0],[5.4,8.9],[6.0,9.8],[6.6,10.6],[7.2,11.4],[7.8,12.2],[8.6,13.2],[9.2,14.5],[4.7,11.2],[5.3,12.3]];

const bootSeries = [bootMalaga.concat(spreadMalaga), bootBarcelona.concat(spreadBarcelona), bootNice.concat(spreadNice),
  bootCagliari.concat(spreadCagliari), bootBastia.concat(spreadBastia), bootVerona.concat(spreadVerona),
  bootGospic.concat(spreadGospic), bootSplit.concat(spreadSplit), bootAthens.concat(spreadAthens),
  bootThessaloniki.concat(spreadThessaloniki)];

// ---------------- LAYOUT ----------------
const plotBoxes = [[61,62,257,240],[321,66,521,238],[586,59,783,237],[848,59,1046,237],[1108,65,1307,238],
  [57,309,260,490],[320,316,523,492],[583,309,786,490],[845,309,1049,490],[1110,318,1314,489]];
// visible ranges: [x min, x max, kurtosis at top, kurtosis at bottom]
const axisRanges = [[-0.66,38.5,-1.56,65.9],[-0.74,18.61,0.85,32.09],[-0.32,15.32,0.11,25.03],[-0.51,16.4,0.11,25.03],[-0.51,13.47,0.81,22.94],
  [-2.08,58.2,-2.07,89.2],[-0.285,7.29,0.88,13.53],[-0.58,15.53,0.06,27.0],[-0.49,11.46,0.49,18.67],[-0.45,11.52,1.01,18.6]];
const titleCenterX = [151,413.5,676.5,939,1201];
const titleTop = [37,285];
const kurtTitleX = [27,289,552,814,1077];
const skewTitleY = [267,515];

const toXY = arr => arr.map(p => ({x:p[0], y:p[1]}));
const boxPlugin = {id:'plotbox', afterDraw(chart){
  const {ctx, chartArea:a} = chart;
  ctx.save(); ctx.strokeStyle = '#8a8a8a'; ctx.lineWidth = 1;
  ctx.strokeRect(Math.round(a.left)+0.5, Math.round(a.top)+0.5, Math.round(a.right-a.left)-1, Math.round(a.bottom-a.top)-1);
  ctx.restore();
}};
const tickFont = {family:"'Liberation Sans', Arial, sans-serif", size:10};
const titleFont = {family:"'Liberation Serif', 'Times New Roman', serif", size:15};
const page = document.getElementById('page');

for (let i = 0; i < 10; i++) {
  const col = i % 5, row = Math.floor(i / 5);
  const [L,T,R,B] = plotBoxes[i];
  const [x0,x1,k0,k1] = axisRanges[i];
  const W = R - L + 60, H = B - T + 50;

  const t = document.createElement('div');
  t.className = 'ptitle'; t.textContent = stationNames[i];
  t.style.left = titleCenterX[col] + 'px'; t.style.top = titleTop[row] + 'px';
  page.appendChild(t);

  const cv = document.createElement('canvas');
  cv.width = W; cv.height = H;
  cv.style.left = (L - 50) + 'px'; cv.style.top = (T - 10) + 'px';
  cv.style.width = W + 'px'; cv.style.height = H + 'px';
  page.appendChild(cv);

  const yTitlePad = kurtTitleX[col] - (L - 50) - 9;
  const xTitlePad = (B + 40) - 9 - skewTitleY[row];

  new Chart(cv, {
    type: 'scatter',
    data: { datasets: [
      {type:'line', data: toXY(betaRegion), fill:'shape', backgroundColor:'#d3d3d3', borderColor:'#d3d3d3', borderWidth:1, pointRadius:0, tension:0, order:10},
      {type:'line', data: toXY(gammaLine), fill:false, borderColor:'#333', borderWidth:1, borderDash:[3,2], pointRadius:0, order:9},
      {type:'line', data: toXY(lognormalCurve), fill:false, borderColor:'#555', borderWidth:1, borderDash:[1,2], pointRadius:0, tension:0, order:8},
      {data: toXY(bootSeries[i]), pointRadius:1.6, backgroundColor:'rgba(255,165,0,0.7)', borderWidth:0, order:6},
      {data: toXY([uniformPoint]), pointStyle:'triangle', pointRadius:4, borderColor:'#111', backgroundColor:'rgba(0,0,0,0)', borderWidth:1.1, order:3},
      {data: toXY([normalPoint]), pointStyle:'star', pointRadius:4, borderColor:'#111', borderWidth:1.6, order:3},
      {data: toXY([logisticPoint]), pointStyle:'cross', pointRadius:4, borderColor:'#111', borderWidth:1.3, order:3},
      {data: toXY([exponentialPoint]), pointStyle:'rect', pointRadius:4.2, borderColor:'#111', backgroundColor:'#555', borderWidth:1.3, order:3},
      {data: toXY([exponentialPoint]), pointStyle:'crossRot', pointRadius:4.2, borderColor:'#111', borderWidth:1, order:2},
      {data: [{x: observedSkew2[i], y: observedKurt[i]}], pointRadius:3.3, backgroundColor:'#00008b', borderColor:'#00008b', borderWidth:0, order:1}
    ]},
    options: {
      responsive:false, animation:false, events:[], devicePixelRatio:1,
      layout:{padding:{top:10, right:10, left:0, bottom:0}},
      plugins:{legend:{display:false}, tooltip:{enabled:false}, title:{display:false}},
      scales:{
        x:{type:'linear', min:x0, max:x1, bounds:'data',
          afterBuildTicks: a => { a.ticks = xTicks[i].map(v => ({value:v})); },
          afterFit: a => { a.height = 40; },
          grid:{display:true, drawOnChartArea:false, drawTicks:true, tickLength:4, color:'#444', lineWidth:0.8},
          border:{display:false},
          ticks:{autoSkip:false, minRotation:0, maxRotation:0, padding:0, color:'#333', font:tickFont},
          title:{display:true, text:'Square of skewness', color:'#111', font:titleFont, padding:{top:0, bottom:xTitlePad}}
        },
        y:{type:'linear', reverse:true, min:k0, max:k1, bounds:'data',
          afterBuildTicks: a => { const tk = []; for (let v = 1; v <= kurtMax[i]; v++) tk.push({value:v}); a.ticks = tk; },
          afterFit: a => { a.width = 50; },
          grid:{display:true, drawOnChartArea:false, drawTicks:true, tickLength:5, color:'#444', lineWidth:0.8},
          border:{display:false},
          ticks:{autoSkip:false, minRotation:90, maxRotation:90, crossAlign:'center', padding:3, color:'#333', font:tickFont,
            callback: v => kurtLabels[i].includes(v) ? String(v) : ''},
          title:{display:true, text:'kurtosis', color:'#111', font:titleFont, padding:{top:yTitlePad, bottom:0}}
        }
      }
    },
    plugins:[boxPlugin]
  });
}
</script>
</body></html>
